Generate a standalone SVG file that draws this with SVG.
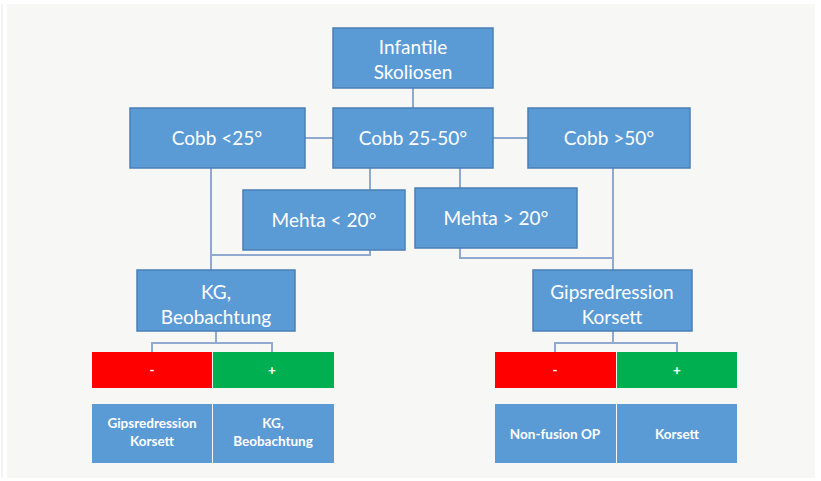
<svg xmlns="http://www.w3.org/2000/svg" width="821" height="481" viewBox="0 0 821 481">
<style>
.b{fill:#5b9bd5;stroke:#4a7fb5;stroke-width:1.5}
.t{fill:#fff;font-family:Lato,"Liberation Sans",sans-serif;font-size:19px;text-anchor:middle}
.s{fill:#fff;font-family:Lato,"Liberation Sans",sans-serif;font-size:13.5px;font-weight:bold;text-anchor:middle}
.c{fill:none;stroke:#8fa9cf;stroke-width:2}
</style>
<rect width="821" height="481" fill="#fff"/>
<rect x="7" y="4" width="808" height="474" fill="#f7f7f5"/>
<line x1="2" y1="4" x2="2" y2="478" stroke="#e8e8e8" stroke-width="1"/>
<g id="connectors">
<path class="c" d="M413 88V108M305 138H333M493 138H528"/>
<path class="c" d="M370 168V190M460 168V188"/>
<path class="c" d="M211 168V270M211 255H370V250"/>
<path class="c" d="M613 168V270M613 258H460V248"/>
<path class="c" d="M216 331V343M152 352V343H272V352"/>
<path class="c" d="M613 331V343M555 352V343H677V352"/>
</g>
<g id="n1"><rect class="b" x="333" y="28" width="160" height="60"/><text class="t" x="413" y="54">Infantile</text><text class="t" x="413" y="79">Skoliosen</text></g>
<g id="n2"><rect class="b" x="130" y="108" width="175" height="60"/><text class="t" x="217" y="145">Cobb &lt;25°</text></g>
<g id="n3"><rect class="b" x="333" y="108" width="160" height="60"/><text class="t" x="413" y="145">Cobb 25-50°</text></g>
<g id="n4"><rect class="b" x="528" y="108" width="162" height="60"/><text class="t" x="609" y="145">Cobb &gt;50°</text></g>
<g id="n5"><rect class="b" x="243" y="190" width="162" height="60"/><text class="t" x="324" y="227">Mehta &lt; 20°</text></g>
<g id="n6"><rect class="b" x="415" y="188" width="162" height="60"/><text class="t" x="496" y="225">Mehta &gt; 20°</text></g>
<g id="n7"><rect class="b" x="137" y="270" width="158" height="61"/><text class="t" x="216" y="299">KG,</text><text class="t" x="216" y="324">Beobachtung</text></g>
<g id="n8"><rect class="b" x="533" y="270" width="159" height="61"/><text class="t" x="612" y="299">Gipsredression</text><text class="t" x="612" y="324">Korsett</text></g>
<g id="n9"><rect x="92" y="352" width="120" height="36" fill="#f00"/><text class="s" x="152" y="375">-</text></g>
<g id="n10"><rect x="213" y="352" width="121" height="36" fill="#00b050"/><text class="s" x="272" y="375">+</text></g>
<g id="n11"><rect x="495" y="352" width="121" height="36" fill="#f00"/><text class="s" x="555" y="375">-</text></g>
<g id="n12"><rect x="617" y="352" width="120" height="36" fill="#00b050"/><text class="s" x="677" y="375">+</text></g>
<g id="n13"><rect x="92" y="404" width="120" height="59" fill="#5b9bd5"/><text class="s" x="152" y="428">Gipsredression</text><text class="s" x="152" y="446">Korsett</text></g>
<g id="n14"><rect x="213" y="404" width="121" height="59" fill="#5b9bd5"/><text class="s" x="273" y="428">KG,</text><text class="s" x="273" y="446">Beobachtung</text></g>
<g id="n15"><rect x="495" y="404" width="121" height="59" fill="#5b9bd5"/><text class="s" x="555" y="439">Non-fusion OP</text></g>
<g id="n16"><rect x="617" y="404" width="120" height="59" fill="#5b9bd5"/><text class="s" x="677" y="439">Korsett</text></g>
</svg>
